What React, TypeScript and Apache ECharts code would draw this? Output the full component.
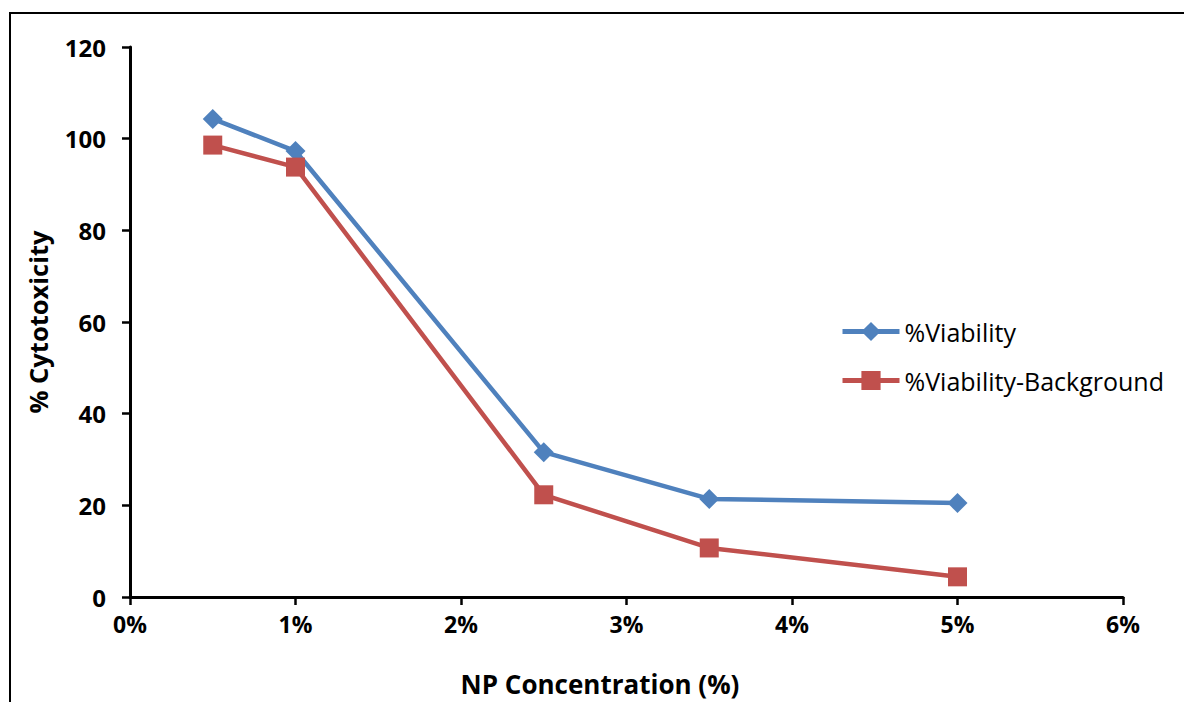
import React, { useEffect, useRef } from "react";
import * as echarts from "echarts";

const concentrations = [0.5, 1, 2.5, 3.5, 5];
const viability = [104.3, 97.3, 31.6, 21.4, 20.5];
const viabilityBackground = [98.6, 93.8, 22.3, 10.7, 4.4];
const seriesNames = ["%Viability", "%Viability-Background"];
const xTitle = "NP Concentration (%)";
const yTitle = "% Cytotoxicity";

const FONT = "'Open Sans', 'Liberation Sans', sans-serif";

export default function App() {
  const ref = useRef<HTMLDivElement>(null);
  useEffect(() => {
    if (!ref.current) return;
    const chart = echarts.init(ref.current, undefined, { renderer: "svg" });
    chart.setOption({
      animation: false,
      backgroundColor: "#ffffff",
      grid: { left: 130, right: 61, top: 47, bottom: 105, containLabel: false },
      xAxis: {
        type: "value",
        min: 0,
        max: 6,
        interval: 1,
        axisLine: { show: true, onZero: false, lineStyle: { color: "#000", width: 3 } },
        axisTick: { show: true, length: 8, lineStyle: { color: "#000", width: 2.5 } },
        splitLine: { show: false },
        axisLabel: {
          formatter: (v: number) => `${v}%`,
          color: "#000",
          fontFamily: FONT,
          fontWeight: "bold",
          fontSize: 23,
          margin: 15,
        },
      },
      yAxis: {
        type: "value",
        min: 0,
        max: 120,
        interval: 20,
        axisLine: { show: true, lineStyle: { color: "#000", width: 3 } },
        axisTick: { show: true, length: 8, lineStyle: { color: "#000", width: 2.5 } },
        splitLine: { show: false },
        axisLabel: {
          color: "#000",
          fontFamily: FONT,
          fontWeight: "bold",
          fontSize: 24,
          margin: 24,
        },
      },
      legend: {
        orient: "vertical",
        left: 840,
        top: 319,
        padding: 0,
        itemWidth: 57,
        itemHeight: 24,
        itemGap: 24,
        lineStyle: { width: 5 },
        textStyle: { fontFamily: FONT, fontSize: 25, color: "#000" },
        data: seriesNames,
      },
      series: [
        {
          name: seriesNames[0],
          type: "line",
          data: concentrations.map((c, i) => [c, viability[i]]),
          symbol: "diamond",
          symbolSize: 20,
          lineStyle: { color: "#4F81BD", width: 4.5 },
          itemStyle: { color: "#4F81BD" },
        },
        {
          name: seriesNames[1],
          type: "line",
          data: concentrations.map((c, i) => [c, viabilityBackground[i]]),
          symbol: "rect",
          symbolSize: 19,
          lineStyle: { color: "#C0504D", width: 4.5 },
          itemStyle: { color: "#C0504D" },
        },
      ],
      graphic: [
        {
          type: "rect",
          silent: true,
          shape: { x: 10, y: 13, width: 1400, height: 1000 },
          style: { fill: "none", stroke: "#000", lineWidth: 2 },
        },
        {
          type: "text",
          x: 600,
          y: 684,
          style: {
            text: xTitle,
            fontFamily: FONT,
            fontWeight: "bold",
            fontSize: 26,
            fill: "#000",
            align: "center",
            verticalAlign: "middle",
          },
        },
        {
          type: "text",
          x: 38,
          y: 322,
          rotation: Math.PI / 2,
          style: {
            text: yTitle,
            fontFamily: FONT,
            fontWeight: "bold",
            fontSize: 25.5,
            fill: "#000",
            align: "center",
            verticalAlign: "middle",
          },
        },
      ],
    });
    return () => chart.dispose();
  }, []);
  return (
    <div
      ref={ref}
      style={{ position: "absolute", left: 0, top: 0, width: 1184, height: 702 }}
    />
  );
}
